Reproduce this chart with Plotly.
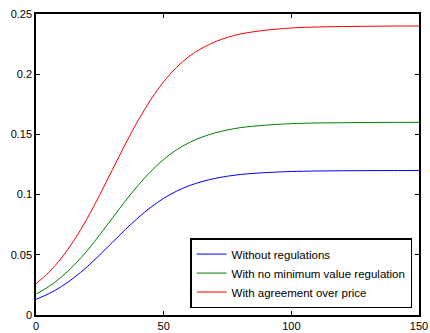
import plotly.graph_objects as go

x_vals = [0, 5, 10, 15, 20, 25, 30, 35, 40, 45, 50, 55, 60, 65, 70, 75, 80, 85, 90, 95, 100,
          110, 120, 130, 140, 150]
without_reg = [0.0130, 0.0177, 0.0237, 0.0312, 0.0400, 0.0500, 0.0605, 0.0710, 0.0808, 0.0895,
               0.0969, 0.1028, 0.1074, 0.1108, 0.1134, 0.1153, 0.1167, 0.1176, 0.1183, 0.1188,
               0.1192, 0.1196, 0.1198, 0.1199, 0.1200, 0.1200]
no_min_value = [0.0173, 0.0236, 0.0316, 0.0416, 0.0533, 0.0667, 0.0807, 0.0947, 0.1077, 0.1193,
                0.1292, 0.1371, 0.1432, 0.1477, 0.1512, 0.1537, 0.1556, 0.1568, 0.1577, 0.1584,
                0.1589, 0.1595, 0.1597, 0.1599, 0.1600, 0.1600]
agreement_price = [0.0260, 0.0354, 0.0474, 0.0624, 0.0800, 0.1000, 0.1210, 0.1420, 0.1616, 0.1790,
                   0.1938, 0.2056, 0.2148, 0.2216, 0.2268, 0.2306, 0.2334, 0.2352, 0.2366, 0.2376,
                   0.2384, 0.2392, 0.2396, 0.2398, 0.2400, 0.2400]

series_names = ["Without regulations", "With no minimum value regulation", "With agreement over price"]
series_colors = ["#0000FF", "#008000", "#FF0000"]

x_ticks = [0, 50, 100, 150]
x_ticktext = ["0", "50", "100", "150"]
y_ticks = [0, 0.05, 0.1, 0.15, 0.2, 0.25]
y_ticktext = ["0", "0.05", "0.1", "0.15", "0.2", "0.25"]

fig = go.Figure()
for name, ys, col in zip(series_names, [without_reg, no_min_value, agreement_price], series_colors):
    fig.add_trace(go.Scatter(x=x_vals, y=ys, mode="lines", name=name,
                             line=dict(color=col, width=1, shape="spline")))

axis_common = dict(showgrid=False, zeroline=False, showline=True, linecolor="black",
                   linewidth=1.5, mirror="allticks", ticks="inside", ticklen=4,
                   tickcolor="black", tickwidth=1, automargin=False,
                   tickfont=dict(family="Arial, Liberation Sans, sans-serif", size=11, color="black"))

fig.update_layout(
    width=430, height=333,
    margin=dict(l=36, r=11, t=14, b=18),
    paper_bgcolor="white", plot_bgcolor="white",
    xaxis=dict(range=[0, 150], tickvals=x_ticks, ticktext=x_ticktext, **axis_common),
    yaxis=dict(range=[0, 0.25], tickvals=y_ticks, ticktext=y_ticktext, **axis_common),
    legend=dict(x=0.982, y=0.023, xanchor="right", yanchor="bottom",
                bgcolor="white", bordercolor="black", borderwidth=1.5,
                font=dict(family="Arial, Liberation Sans, sans-serif", size=11.5, color="black"),
                tracegroupgap=0),
    showlegend=True,
)

fig.write_html("out.html")
